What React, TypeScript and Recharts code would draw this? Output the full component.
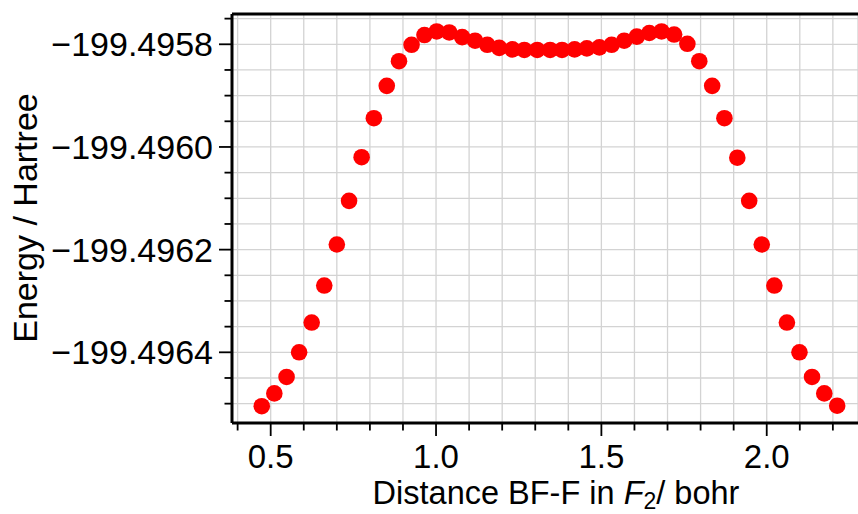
import React from 'react';
import { ScatterChart, Scatter, XAxis, YAxis, CartesianGrid, ReferenceLine } from 'recharts';

// bond distance (bohr) and total energy (Hartree)
const distances = [
    0.473, 0.511, 0.548, 0.586, 0.624, 0.662, 0.700, 0.737, 0.775, 0.812,
    0.851, 0.888, 0.926, 0.965, 1.002, 1.040, 1.079, 1.118, 1.155, 1.191,
    1.231, 1.267, 1.306, 1.345, 1.381, 1.419, 1.456, 1.494, 1.531, 1.569,
    1.607, 1.645, 1.682, 1.720, 1.760, 1.796, 1.835, 1.872, 1.911, 1.947,
    1.985, 2.023, 2.061, 2.099, 2.137, 2.174, 2.213,
];
const energies = [
    -199.496505, -199.49648, -199.496448, -199.4964, -199.496342, -199.49627, -199.49619, -199.496105, -199.49602, -199.495944,
    -199.495881, -199.495833, -199.495801, -199.495782, -199.495775, -199.495777, -199.495786, -199.495793, -199.495801, -199.495807,
    -199.49581, -199.495811, -199.495811, -199.495811, -199.495811, -199.49581, -199.495808, -199.495806, -199.495801, -199.495793,
    -199.495785, -199.495778, -199.495775, -199.495781, -199.495799, -199.495833, -199.495881, -199.495944, -199.496021, -199.496105,
    -199.49619, -199.49627, -199.496342, -199.4964, -199.496448, -199.49648, -199.496504,
];

const xMajorTicks = [0.5, 1.0, 1.5, 2.0];
const xMinorTicks = [0.4, 0.5, 0.6, 0.7, 0.8, 0.9, 1.0, 1.1, 1.2, 1.3, 1.4, 1.5, 1.6, 1.7, 1.8, 1.9, 2.0, 2.1, 2.2];
const yMajorTicks = [-199.4958, -199.496, -199.4962, -199.4964];
const yMinorTicks = [
    -199.49575, -199.4958, -199.49585, -199.4959, -199.49595, -199.496, -199.49605, -199.4961,
    -199.49615, -199.4962, -199.49625, -199.4963, -199.49635, -199.4964, -199.49645, -199.4965,
];

const xDomain = [0.383, 2.276];
const yDomain = [-199.4965377, -199.495741];

const data = distances.map((d, i) => ({ x: d, y: energies[i] }));

const FONT = '"Liberation Sans", Arial, sans-serif';
const isMajor = (v, list) => list.some((m) => Math.abs(m - v) < 1e-9);

const XTick = (props) => {
    const { x, y, payload } = props;
    const major = isMajor(payload.value, xMajorTicks);
    return (
        <g>
            <line x1={x} x2={x} y1={y + 1} y2={y + (major ? 13 : 7.5)} stroke="#000" strokeWidth={1.8} />
            {major && (
                <text x={x} y={y + 45} textAnchor="middle" fontSize={33} fontFamily={FONT} fill="#000">
                    {payload.value.toFixed(1)}
                </text>
            )}
        </g>
    );
};

const YTick = (props) => {
    const { x, y, payload } = props;
    const major = isMajor(payload.value, yMajorTicks);
    return (
        <g>
            <line x1={x - 1} x2={x - (major ? 13 : 7.5)} y1={y} y2={y} stroke="#000" strokeWidth={1.8} />
            {major && (
                <text x={x - 19} y={y + 12} textAnchor="end" fontSize={34} fontFamily={FONT} fill="#000">
                    {'\u2212' + Math.abs(payload.value).toFixed(4)}
                </text>
            )}
        </g>
    );
};

const Dot = (props) => <circle cx={props.cx} cy={props.cy} r={8.3} fill="#ff0000" />;

export default function App() {
    return (
        <div style={{ position: 'absolute', left: 0, top: 0, width: 858, height: 514, background: '#fff' }}>
            <ScatterChart width={858} height={514} margin={{ top: 14, right: 0, bottom: 0, left: 0 }}>
                <CartesianGrid stroke="#d3d3d3" strokeWidth={1.3} />
                <XAxis
                    type="number"
                    dataKey="x"
                    domain={xDomain}
                    allowDataOverflow
                    ticks={xMinorTicks}
                    interval={0}
                    tickSize={0}
                    tickMargin={0}
                    tickLine={false}
                    tick={<XTick />}
                    height={91}
                    axisLine={{ stroke: '#000', strokeWidth: 3 }}
                />
                <YAxis
                    type="number"
                    dataKey="y"
                    domain={yDomain}
                    allowDataOverflow
                    ticks={yMinorTicks}
                    interval={0}
                    tickSize={0}
                    tickMargin={0}
                    tickLine={false}
                    tick={<YTick />}
                    width={232}
                    axisLine={{ stroke: '#000', strokeWidth: 3 }}
                />
                <ReferenceLine y={yDomain[1]} stroke="#000" strokeWidth={3} />
                <Scatter data={data} shape={<Dot />} isAnimationActive={false} />
            </ScatterChart>
            <svg width={858} height={514} style={{ position: 'absolute', left: 0, top: 0, pointerEvents: 'none' }}>
                <text
                    transform="translate(37, 218) rotate(-90)"
                    textAnchor="middle"
                    fontSize={34}
                    fontFamily={FONT}
                    fill="#000"
                >
                    Energy / Hartree
                </text>
                <text x={556} y={504} textAnchor="middle" fontSize={32.5} fontFamily={FONT} fill="#000">
                    Distance BF-F in <tspan fontStyle="italic">F</tspan>
                    <tspan fontSize={23} dy={5}>2</tspan>
                    <tspan dy={-5}>/ bohr</tspan>
                </text>
            </svg>
        </div>
    );
}
